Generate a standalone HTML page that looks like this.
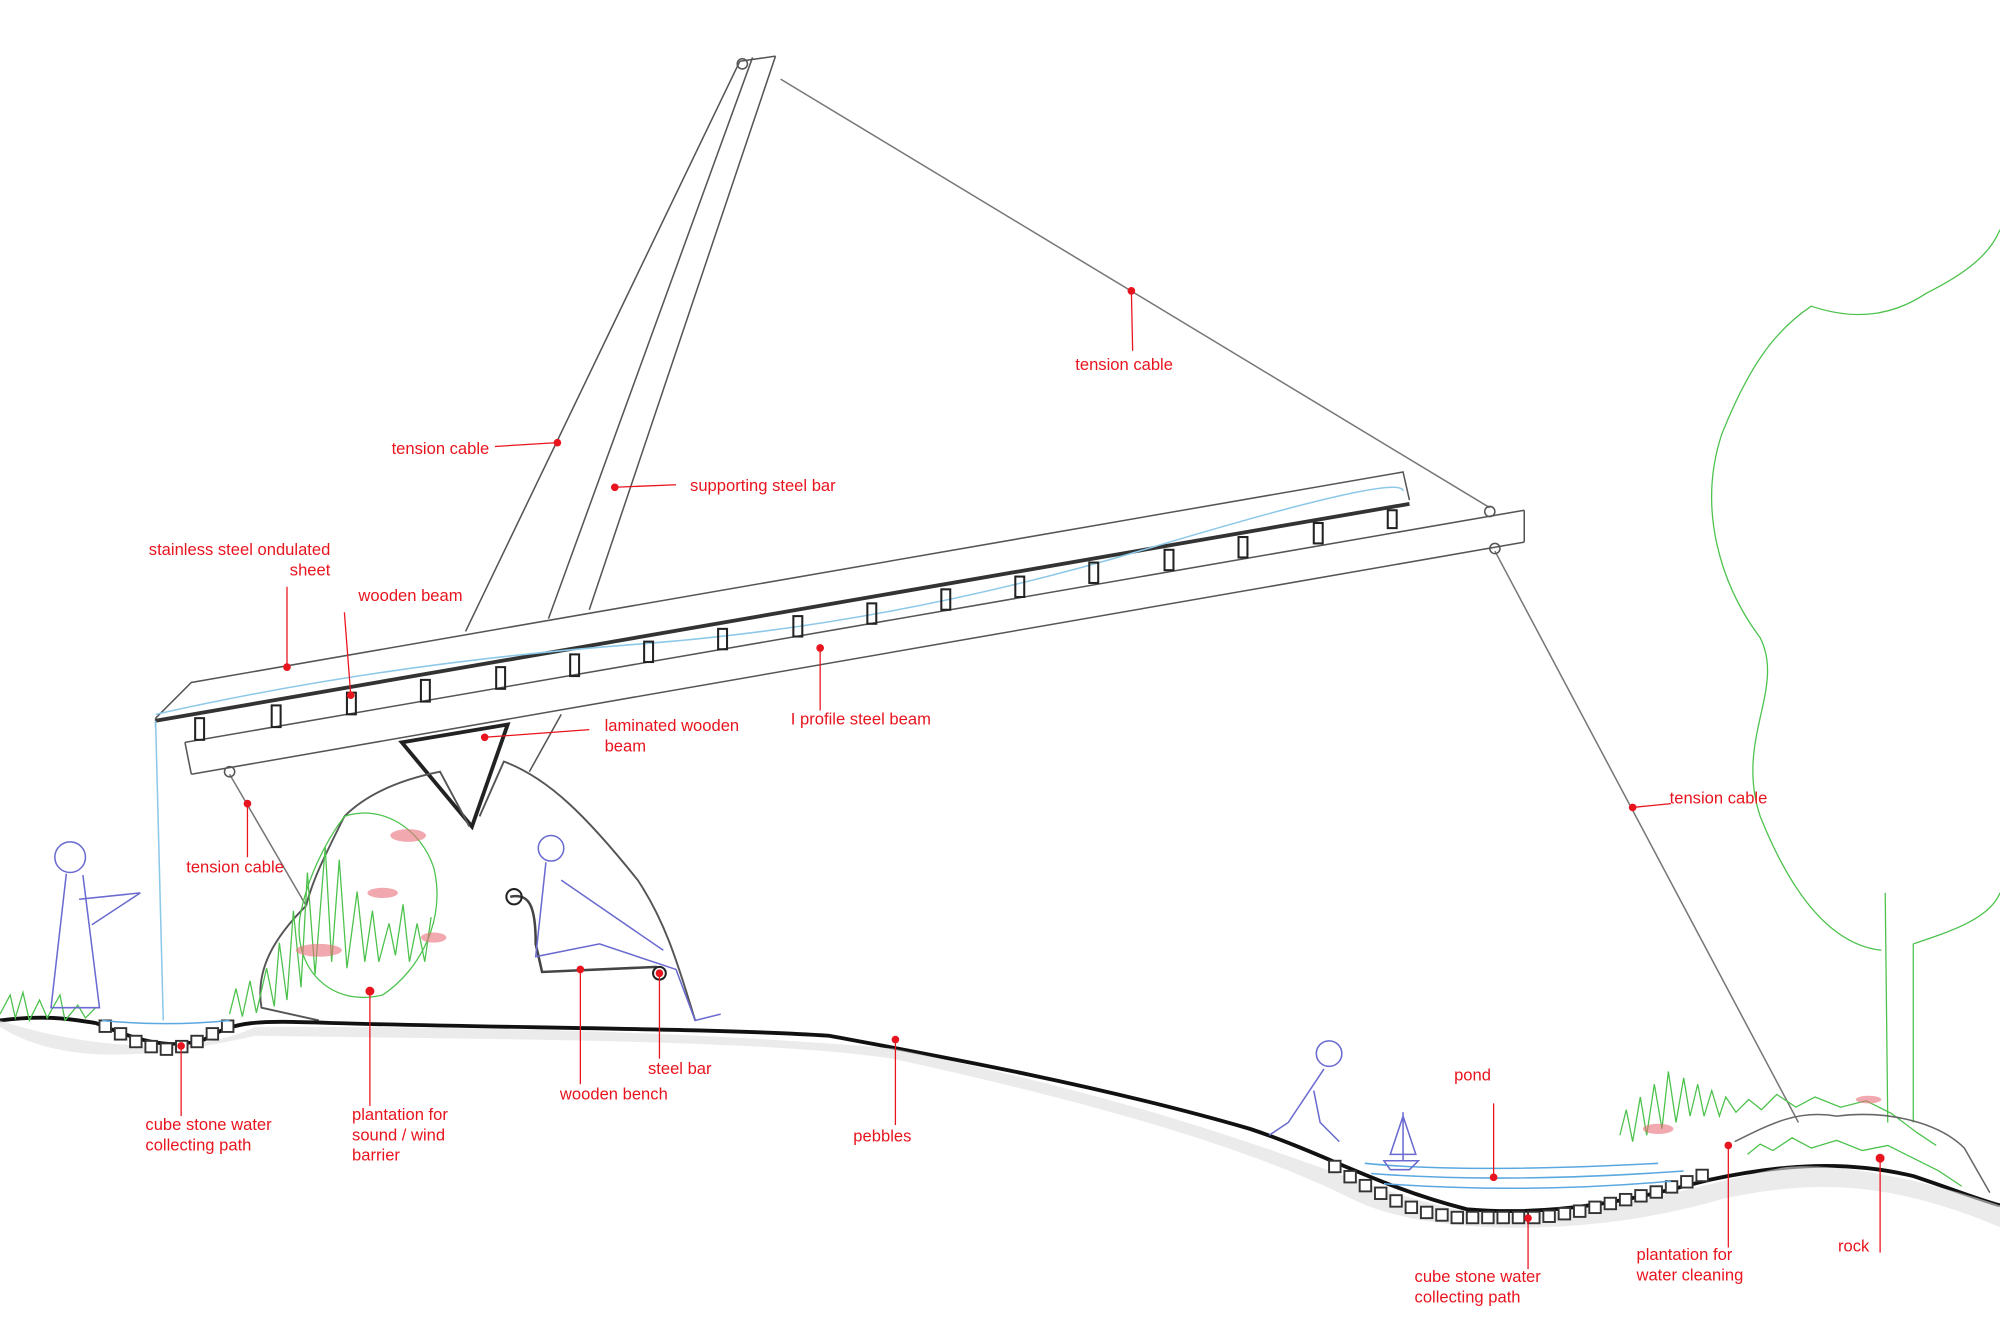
<!DOCTYPE html>
<html><head><style>
html,body{margin:0;padding:0;background:#fff;width:2000px;height:1333px;overflow:hidden}
svg{display:block}
text{font-family:"Liberation Sans",sans-serif;font-size:13px;fill:#e8141e}
</style></head><body>
<svg width="2000" height="1333" viewBox="0 0 1568 1045" xmlns="http://www.w3.org/2000/svg">
<g stroke="#555" stroke-width="1.2" fill="none">
<line x1="580" y1="48" x2="365" y2="495"/>
<line x1="590" y1="45" x2="430" y2="485"/>
<line x1="608" y1="44" x2="462" y2="478"/>
<line x1="580" y1="48" x2="608" y2="44"/>
<line x1="440" y1="560" x2="415" y2="605"/>
<line x1="612" y1="62" x2="1168" y2="398" stroke="#777"/>
<line x1="1172" y1="432" x2="1410" y2="880" stroke="#777"/>
<line x1="180" y1="607" x2="240" y2="710" stroke="#777"/>
<circle cx="582" cy="50" r="4"/><circle cx="1168" cy="401" r="4"/><circle cx="1172" cy="430" r="4"/><circle cx="180" cy="605" r="4"/>
<polyline points="122,563 150,535 1100,370 1105,392"/>
<line x1="122" y1="563" x2="122" y2="570"/>
<line x1="145" y1="582" x2="1195" y2="400"/>
<line x1="150" y1="607" x2="1195" y2="425"/>
<line x1="145" y1="582" x2="150" y2="607"/>
<line x1="1195" y1="400" x2="1195" y2="425"/>
</g>
<line x1="122" y1="565" x2="1105" y2="395" stroke="#333" stroke-width="3"/>
<path d="M122,560 Q300,520 500,505 T900,430 T1100,385" stroke="#8cc8e8" fill="none" stroke-width="1.2"/>
<path d="M122,565 L128,800" stroke="#8cc8e8" fill="none" stroke-width="1.2"/>
<g stroke="#222" stroke-width="1.6" fill="none">
<rect x="153" y="563" width="7" height="17"/><rect x="213" y="553" width="7" height="17"/><rect x="272" y="543" width="7" height="17"/><rect x="330" y="533" width="7" height="17"/><rect x="389" y="523" width="7" height="17"/><rect x="447" y="513" width="7" height="17"/><rect x="505" y="503" width="7" height="16"/><rect x="563" y="493" width="7" height="16"/><rect x="622" y="483" width="7" height="16"/><rect x="680" y="473" width="7" height="16"/><rect x="738" y="462" width="7" height="16"/><rect x="796" y="452" width="7" height="16"/><rect x="854" y="441" width="7" height="16"/><rect x="913" y="431" width="7" height="16"/><rect x="971" y="421" width="7" height="16"/><rect x="1030" y="410" width="7" height="16"/><rect x="1088" y="400" width="7" height="14"/>
<polygon points="315,582 398,568 370,648" stroke-width="3"/>
<path d="M240,710 C215,735 200,760 205,790 L250,800 M270,640 C290,620 320,610 345,605 L368,648 M376,640 L395,597 C430,610 460,640 500,690 C520,720 530,750 545,800" stroke="#555" stroke-width="1.5"/>
<path d="M270,640 C255,670 245,690 240,710" stroke="#555" stroke-width="1.5"/>
<path d="M400,703 C415,700 420,710 420,740 L425,762 L515,758" stroke="#444" stroke-width="2"/>
<circle cx="403" cy="703" r="6"/><circle cx="517" cy="763" r="5"/>
</g>
<path d="M0,800 C40,795 60,800 75,802 C100,812 130,825 160,815 C185,800 200,800 260,802 C400,806 560,806 650,812 C720,825 860,850 980,885 C1040,905 1080,930 1150,948 C1230,955 1300,935 1340,925 C1400,912 1450,910 1500,922 C1530,932 1550,940 1568,945" stroke="#111" stroke-width="3" fill="none"/>
<path d="M0,805 C40,830 100,835 200,812 C400,815 600,815 700,830 C860,865 980,900 1060,940 C1120,970 1250,970 1350,940 C1420,925 1480,925 1568,962 L1568,945 C1530,932 1450,910 1400,915 C1340,925 1250,960 1150,950 C1050,930 980,880 700,822 C500,805 300,805 200,805 C150,830 60,820 0,800Z" fill="#ddd" opacity="0.6"/>
<g stroke="#333" stroke-width="1.5" fill="#fff">
<rect x="78" y="800" width="9" height="9"/><rect x="90" y="806" width="9" height="9"/><rect x="102" y="812" width="9" height="9"/><rect x="114" y="816" width="9" height="9"/><rect x="126" y="818" width="9" height="9"/><rect x="138" y="816" width="9" height="9"/><rect x="150" y="812" width="9" height="9"/><rect x="162" y="806" width="9" height="9"/><rect x="174" y="800" width="9" height="9"/>
<rect x="1042" y="910" width="9" height="9"/><rect x="1054" y="918" width="9" height="9"/><rect x="1066" y="925" width="9" height="9"/><rect x="1078" y="931" width="9" height="9"/><rect x="1090" y="937" width="9" height="9"/><rect x="1102" y="942" width="9" height="9"/><rect x="1114" y="946" width="9" height="9"/><rect x="1126" y="948" width="9" height="9"/><rect x="1138" y="950" width="9" height="9"/><rect x="1150" y="950" width="9" height="9"/><rect x="1162" y="950" width="9" height="9"/><rect x="1174" y="950" width="9" height="9"/><rect x="1186" y="950" width="9" height="9"/><rect x="1198" y="950" width="9" height="9"/><rect x="1210" y="949" width="9" height="9"/><rect x="1222" y="947" width="9" height="9"/><rect x="1234" y="945" width="9" height="9"/><rect x="1246" y="942" width="9" height="9"/><rect x="1258" y="939" width="9" height="9"/><rect x="1270" y="936" width="9" height="9"/><rect x="1282" y="933" width="9" height="9"/><rect x="1294" y="930" width="9" height="9"/><rect x="1306" y="926" width="9" height="9"/><rect x="1318" y="922" width="9" height="9"/><rect x="1330" y="917" width="9" height="9"/>
</g>
<g stroke="#5aa8e0" fill="none" stroke-width="1.2">
<path d="M80,800 Q130,805 180,800"/>
<path d="M1070,912 Q1150,920 1300,912 M1075,920 Q1180,928 1320,918 M1085,928 Q1200,936 1310,926"/>
</g>
<g stroke="#4cc24c" fill="none" stroke-width="1">
<path d="M0,795 l8,-15 l4,18 l6,-20 l5,22 l8,-16 l6,14 l10,-18 l4,20 l10,-12 l6,10 l8,-8"/>
<path d="M180,795 l5,-20 l5,22 l6,-28 l5,25 l8,-35 l6,30 l4,-50 l6,45 l5,-70 l6,60 l5,-90 l6,80 l8,-100 l5,90 l6,-80 l6,85 l8,-60 l6,55 l6,-40 l5,40 l8,-30 l5,25 l6,-40 l5,45 l6,-30 l6,30 l5,-35"/>
<path d="M270,640 C300,630 330,650 340,680 C350,720 330,760 300,780 C260,790 230,760 235,720 C240,690 255,660 270,640"/>
<path d="M1270,890 l5,-20 l5,25 l6,-35 l5,30 l6,-40 l6,35 l5,-45 l6,40 l6,-35 l5,30 l6,-25 l5,25 l6,-20 l6,20 l5,-15 l8,12 l10,-10 l10,8 l12,-12 l15,10 l15,-8 l20,8 l20,-5 l20,10 l20,15 l15,10"/>
<path d="M1370,905 l10,-8 l10,5 l15,-10 l15,8 l20,-6 l20,8 l20,-4 l20,10 l20,10 l18,12"/>
<path d="M1480,880 L1478,700 M1500,880 L1500,740 M1500,740 C1530,730 1560,720 1568,700"/>
<path d="M1475,745 C1430,740 1400,690 1380,640 C1360,580 1400,540 1380,500 C1350,460 1330,400 1350,340 C1370,290 1390,260 1420,240 C1450,250 1480,250 1510,230 C1540,215 1560,200 1568,180"/>
</g>
<g fill="#e8707a" opacity="0.6">
<ellipse cx="250" cy="745" rx="18" ry="5"/><ellipse cx="320" cy="655" rx="14" ry="5"/><ellipse cx="300" cy="700" rx="12" ry="4"/><ellipse cx="340" cy="735" rx="10" ry="4"/><ellipse cx="1300" cy="885" rx="12" ry="4"/><ellipse cx="1465" cy="862" rx="10" ry="3"/>
</g>
<g stroke="#6a6ad0" fill="none" stroke-width="1.2">
<circle cx="55" cy="672" r="12"/><path d="M52,685 L40,790 L78,790 L65,686 M62,705 L110,700 L72,725"/>
<circle cx="432" cy="665" r="10"/><path d="M428,676 L420,750 L470,740 L530,760 L545,800 L565,795 M440,690 L520,745"/>
<circle cx="1042" cy="826" r="10"/><path d="M1038,838 L1010,880 L995,890 M1030,855 L1035,880 L1050,895"/>
<path d="M1100,872 L1100,910 M1100,875 L1090,905 L1110,905Z M1085,910 L1112,910 L1105,917 L1090,917Z"/>
</g>
<path d="M1360,895 C1390,880 1410,870 1440,875 C1480,870 1520,880 1540,900 L1560,935" stroke="#666" fill="none" stroke-width="1.2"/>
<g stroke="#e8141e" stroke-width="1" fill="#e8141e">
<line x1="887" y1="228" x2="888" y2="275"/><circle cx="887" cy="228" r="2.5"/>
<line x1="388" y1="350" x2="437" y2="347"/><circle cx="437" cy="347" r="2.5"/>
<line x1="482" y1="382" x2="530" y2="380"/><circle cx="482" cy="382" r="2.5"/>
<line x1="225" y1="460" x2="225" y2="523"/><circle cx="225" cy="523" r="2.5"/>
<line x1="270" y1="480" x2="275" y2="545"/><circle cx="275" cy="545" r="2.5"/>
<line x1="380" y1="578" x2="462" y2="572"/><circle cx="380" cy="578" r="2.5"/>
<line x1="643" y1="508" x2="643" y2="557"/><circle cx="643" cy="508" r="2.5"/>
<line x1="1280" y1="633" x2="1310" y2="630"/><circle cx="1280" cy="633" r="2.5"/>
<line x1="194" y1="630" x2="194" y2="672"/><circle cx="194" cy="630" r="2.5"/>
<line x1="142" y1="820" x2="142" y2="875"/><circle cx="142" cy="820" r="2.5"/>
<line x1="290" y1="777" x2="290" y2="867"/><circle cx="290" cy="777" r="3"/>
<line x1="455" y1="760" x2="455" y2="850"/><circle cx="455" cy="760" r="2.5"/>
<line x1="517" y1="763" x2="517" y2="830"/><circle cx="517" cy="763" r="2.5"/>
<line x1="702" y1="815" x2="702" y2="882"/><circle cx="702" cy="815" r="2.5"/>
<line x1="1171" y1="865" x2="1171" y2="923"/><circle cx="1171" cy="923" r="2.5"/>
<line x1="1198" y1="955" x2="1198" y2="995"/><circle cx="1198" cy="955" r="2.5"/>
<line x1="1355" y1="898" x2="1355" y2="978"/><circle cx="1355" cy="898" r="2.5"/>
<line x1="1474" y1="908" x2="1474" y2="982"/><circle cx="1474" cy="908" r="3"/>
</g>
<text x="843" y="290">tension cable</text>
<text x="307" y="356">tension cable</text>
<text x="541" y="385">supporting steel bar</text>
<text x="259" y="435" text-anchor="end">stainless steel ondulated</text>
<text x="259" y="451" text-anchor="end">sheet</text>
<text x="281" y="471">wooden beam</text>
<text x="474" y="573">laminated wooden</text>
<text x="474" y="589">beam</text>
<text x="620" y="568">I profile steel beam</text>
<text x="1309" y="630">tension cable</text>
<text x="146" y="684">tension cable</text>
<text x="114" y="886">cube stone water</text>
<text x="114" y="902">collecting path</text>
<text x="276" y="878">plantation for</text>
<text x="276" y="894">sound / wind</text>
<text x="276" y="910">barrier</text>
<text x="439" y="862">wooden bench</text>
<text x="508" y="842">steel bar</text>
<text x="669" y="895">pebbles</text>
<text x="1140" y="847">pond</text>
<text x="1109" y="1005">cube stone water</text>
<text x="1109" y="1021">collecting path</text>
<text x="1283" y="988">plantation for</text>
<text x="1283" y="1004">water cleaning</text>
<text x="1441" y="981">rock</text>
</svg>
</body></html>
